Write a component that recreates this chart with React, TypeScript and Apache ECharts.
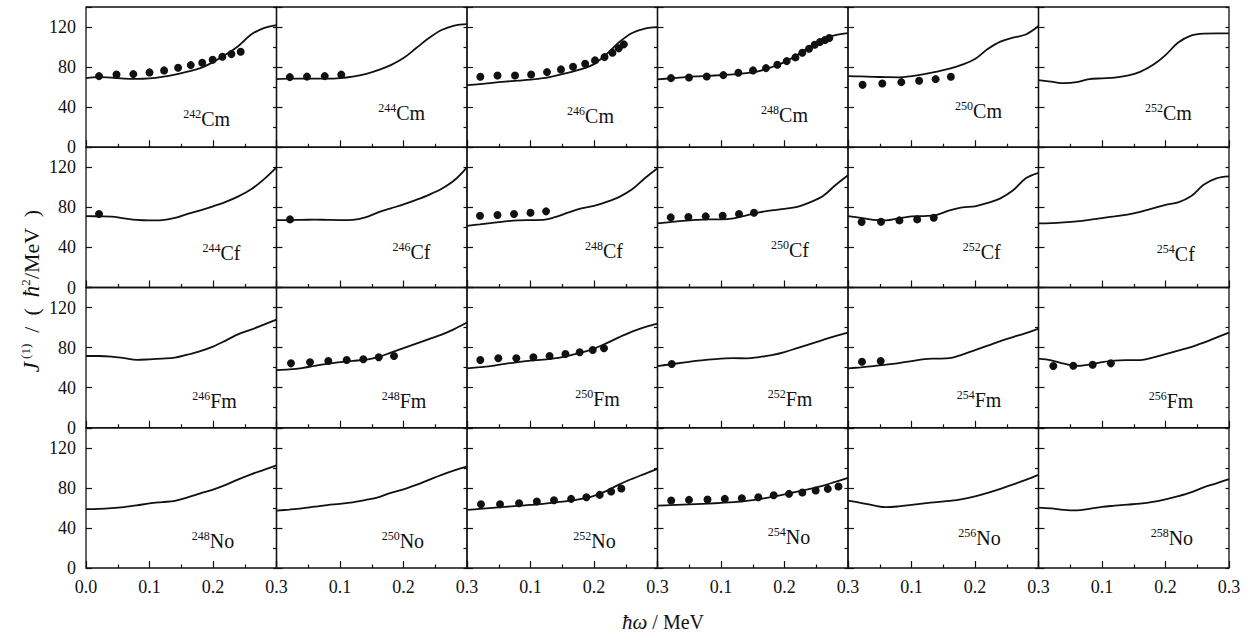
import React, { useEffect, useRef } from "react";
import * as echarts from "echarts";

// rotational frequency grid (MeV) for calculated curves
const OMEGA = [0, 0.02, 0.04, 0.06, 0.08, 0.1, 0.12, 0.14, 0.16, 0.18, 0.2, 0.22, 0.24, 0.26, 0.28, 0.3];

// calculated J(1) curves
const calc242Cm = [69, 70, 69.5, 68.5, 68.3, 68.8, 70.3, 72.5, 75.5, 79, 85, 92.5, 101, 112.5, 119, 122];
const calc244Cm = [68, 68.5, 68.5, 68.5, 68.5, 69, 70.5, 73, 77, 82, 89, 99, 109, 117, 121.5, 123];
const calc246Cm = [62, 63, 64.3, 65.5, 66.5, 67.5, 69, 71.5, 74.5, 78, 83, 93, 105, 114, 118.5, 120];
const calc248Cm = [67.7, 68.8, 69.8, 70.7, 71.3, 72, 72.8, 74, 76, 80, 85, 92, 100.5, 108, 112, 114];
const calc250Cm = [71, 70.7, 70.3, 70, 69.8, 71, 73, 75.5, 78.5, 82.5, 88, 98, 105.5, 109.5, 112.5, 121];
const calc252Cm = [67, 65.5, 64, 65, 68, 68.8, 69.5, 71.5, 75.3, 82, 92, 104.5, 111.5, 113.5, 113.7, 113.7];
const calc244Cf = [71.3, 71, 70.7, 69, 67.5, 67, 67.3, 69.5, 73.5, 77, 81, 85.5, 91, 98, 108, 120];
const calc246Cf = [67.3, 67.3, 67.5, 67.8, 67.5, 67.3, 67.5, 70, 75, 79, 83, 87.5, 92.5, 98.5, 107, 120];
const calc248Cf = [61.6, 63, 64.5, 66, 67, 67.3, 67.5, 70.5, 75, 79, 81.5, 85.5, 90.5, 98, 109, 119];
const calc250Cf = [64, 65.3, 66.6, 67.5, 68, 68, 69, 72, 75, 77, 78.5, 80.5, 85, 91, 102, 112];
const calc252Cf = [71.3, 69.5, 67.5, 67, 69, 71, 71.3, 72.5, 77, 80, 81, 84.5, 89, 97, 109, 114.5];
const calc254Cf = [64, 64.3, 65, 66, 67.5, 69.3, 71, 72.8, 75.5, 79, 82.5, 85, 91, 102.5, 109, 111];
const calc246Fm = [71.6, 71.6, 71, 69.5, 67.8, 68.3, 69, 70, 73, 76.5, 81, 87, 93.5, 98, 103, 108];
const calc248Fm = [57.6, 58.3, 59.6, 61.8, 63.8, 65.5, 66.8, 67.8, 70.5, 75, 79.5, 84, 88.5, 93, 98.5, 105];
const calc250Fm = [59.3, 60.5, 61.8, 63.8, 65.5, 67, 68, 69.5, 72, 75, 79, 84.5, 90.5, 96, 100.5, 104];
const calc252Fm = [61.6, 63.3, 65, 66.7, 68, 69, 69.5, 69.3, 70.5, 72.5, 75.5, 79.5, 83.5, 87.5, 91.5, 95];
const calc254Fm = [59.3, 60.3, 61.5, 63, 64.5, 66.5, 68.6, 69, 69.5, 73, 77.5, 82, 86.5, 90.5, 94.5, 99];
const calc256Fm = [68.9, 67.3, 64, 61.8, 63, 65.5, 67, 67.5, 67.6, 70, 73.5, 77, 80.5, 85, 90, 95];
const calc248No = [58.7, 59, 59.7, 60.8, 62.5, 64.5, 65.8, 67, 70.5, 74.5, 78.3, 83, 88.5, 93.5, 98, 102.5];
const calc250No = [57.3, 58.3, 59.5, 61.2, 62.8, 64, 65.5, 67.8, 70.5, 75, 78.5, 83, 88, 93, 97.5, 101.5];
const calc252No = [58, 59, 60, 61, 62, 63, 64, 65.5, 67, 69, 72, 77, 83.5, 89, 94, 99];
const calc254No = [62.3, 62.8, 63.3, 63.8, 64.3, 65, 65.8, 67, 68.7, 71, 73.5, 76.3, 79, 82, 86, 90];
const calc256No = [67.3, 65, 62.5, 60.7, 61.5, 63, 64.5, 65.8, 67, 68.8, 71.5, 75, 79, 83.5, 88, 93];
const calc258No = [60.3, 59.5, 58, 57.5, 59, 61, 62.2, 63.3, 64.3, 66, 68.5, 71.7, 75.5, 80.5, 84.5, 88.7];

// experimental points [omega, J(1)]
const exp242Cm = [[0.0205, 71], [0.048, 72.7], [0.0745, 73], [0.1, 74.7], [0.123, 76.7], [0.145, 79.3], [0.165, 82], [0.183, 84.3], [0.1995, 87.3], [0.2147, 90.3], [0.229, 93], [0.2436, 95.3]];
const exp244Cm = [[0.021, 70], [0.048, 70.5], [0.076, 71], [0.102, 72.5]];
const exp246Cm = [[0.021, 70.3], [0.048, 71.7], [0.0756, 71.7], [0.101, 72.7], [0.126, 75], [0.148, 77.7], [0.167, 80.3], [0.186, 83.3], [0.2016, 86.7], [0.2165, 90], [0.229, 94.3], [0.239, 98.7], [0.247, 102.7]];
const exp248Cm = [[0.0213, 69], [0.0496, 69.7], [0.0776, 70.7], [0.1037, 72], [0.1273, 74.3], [0.1504, 76.7], [0.1709, 79], [0.1887, 82.3], [0.2035, 86], [0.2172, 89.7], [0.228, 94.3], [0.2386, 98.3], [0.2476, 102.3], [0.2559, 105], [0.2638, 107], [0.2706, 109]];
const exp250Cm = [[0.023, 62.3], [0.054, 63.7], [0.084, 65], [0.112, 66.3], [0.138, 68], [0.162, 70.3]];
const exp244Cf = [[0.0205, 73.3]];
const exp246Cf = [[0.0213, 68]];
const exp248Cf = [[0.0205, 71.6], [0.048, 72.3], [0.074, 73.3], [0.1, 74.6], [0.1245, 76]];
const exp250Cf = [[0.0208, 70], [0.0486, 70.3], [0.0759, 71], [0.1027, 71.6], [0.1283, 73.3], [0.152, 74.6]];
const exp252Cf = [[0.0215, 65.3], [0.052, 65.6], [0.081, 67], [0.109, 68], [0.135, 69.6]];
const exp248Fm = [[0.0228, 64.3], [0.0528, 65.3], [0.0816, 66.6], [0.1105, 67.6], [0.1367, 68.3], [0.161, 70.3], [0.185, 71.6]];
const exp250Fm = [[0.021, 67.6], [0.0493, 69.3], [0.0777, 69.3], [0.1045, 70.3], [0.13, 71.6], [0.155, 73.6], [0.1775, 75.3], [0.198, 77.6], [0.2157, 79.3]];
const exp252Fm = [[0.0224, 63.6]];
const exp254Fm = [[0.022, 65.9], [0.0515, 66.6]];
const exp256Fm = [[0.0233, 61.6], [0.0548, 61.9], [0.0853, 62.9], [0.114, 64.3]];
const exp252No = [[0.022, 63.7], [0.052, 63.7], [0.082, 64.7], [0.11, 66.3], [0.137, 67.7], [0.164, 69], [0.188, 70.7], [0.209, 73], [0.227, 76.3], [0.243, 79.3]];
const exp254No = [[0.0216, 67.3], [0.0496, 68], [0.0787, 68.3], [0.106, 69], [0.1328, 69.7], [0.1588, 70.7], [0.183, 72.7], [0.2071, 74], [0.2281, 75.3], [0.2491, 77.3], [0.2682, 79], [0.285, 81.3]];

// panel names (row-major) and their label anchors in data coordinates
const MASS = ["242", "244", "246", "248", "250", "252", "244", "246", "248", "250", "252", "254", "246", "248", "250", "252", "254", "256", "248", "250", "252", "254", "256", "258"];
const ELEMENT = ["Cm", "Cm", "Cm", "Cm", "Cm", "Cm", "Cf", "Cf", "Cf", "Cf", "Cf", "Cf", "Fm", "Fm", "Fm", "Fm", "Fm", "Fm", "No", "No", "No", "No", "No", "No"];
const LABEL_AT = [
  [0.19, 28], [0.197, 34.5], [0.1945, 31], [0.2, 32.5], [0.2055, 36], [0.2047, 34],
  [0.2134, 34.5], [0.2126, 35], [0.2157, 36.5], [0.2087, 37], [0.2105, 35], [0.2162, 33],
  [0.2024, 27], [0.2008, 27], [0.2055, 28.6], [0.2087, 28.6], [0.2063, 27.6], [0.2087, 27],
  [0.2, 27], [0.199, 27], [0.2008, 27], [0.207, 30.5], [0.207, 29.7], [0.21, 30],
];

const CALC = [
  calc242Cm, calc244Cm, calc246Cm, calc248Cm, calc250Cm, calc252Cm,
  calc244Cf, calc246Cf, calc248Cf, calc250Cf, calc252Cf, calc254Cf,
  calc246Fm, calc248Fm, calc250Fm, calc252Fm, calc254Fm, calc256Fm,
  calc248No, calc250No, calc252No, calc254No, calc256No, calc258No,
];
const EXP: (number[][] | null)[] = [
  exp242Cm, exp244Cm, exp246Cm, exp248Cm, exp250Cm, null,
  exp244Cf, exp246Cf, exp248Cf, exp250Cf, exp252Cf, null,
  null, exp248Fm, exp250Fm, exp252Fm, exp254Fm, exp256Fm,
  null, null, exp252No, exp254No, null, null,
];

const SERIF = "'Liberation Serif', 'DejaVu Serif', serif";
const INK = "#111111";

export default function App() {
  const ref = useRef<HTMLDivElement>(null);
  useEffect(() => {
    if (!ref.current) return;
    const chart = echarts.init(ref.current, undefined, { renderer: "svg" });
    const cols = 6, rows = 4;
    const left0 = 86, right0 = 1229, top0 = 7, bottom0 = 568;
    const pw = (right0 - left0) / cols;
    const ph = (bottom0 - top0) / rows;
    const grid: any[] = [], xAxis: any[] = [], yAxis: any[] = [], series: any[] = [];
    const tickStyle = { color: INK, width: 1.2 };
    for (let i = 0; i < cols * rows; i++) {
      const r = Math.floor(i / cols), c = i % cols;
      grid.push({
        left: left0 + c * pw, top: top0 + r * ph, width: pw, height: ph,
        show: true, borderColor: INK, borderWidth: 1.3, backgroundColor: "transparent",
      });
      xAxis.push({
        gridIndex: i, type: "value", min: 0, max: 0.3, interval: 0.1,
        axisLine: { show: false },
        axisTick: { show: true, inside: true, length: 7, lineStyle: tickStyle },
        minorTick: { show: true, splitNumber: 2, length: 3.5, lineStyle: tickStyle },
        splitLine: { show: false }, minorSplitLine: { show: false },
        axisLabel: {
          show: r === rows - 1, margin: 10, fontSize: 18, fontFamily: SERIF, color: INK,
          formatter: (v: number) => (c > 0 && Math.abs(v) < 1e-9 ? "" : v.toFixed(1)),
        },
      });
      yAxis.push({
        gridIndex: i, type: "value", min: 0, max: 140, interval: 40,
        axisLine: { show: false },
        axisTick: { show: true, inside: true, length: 6, lineStyle: tickStyle },
        splitLine: { show: false },
        axisLabel: {
          show: c === 0, margin: 10, fontSize: 18, fontFamily: SERIF, color: INK,
          formatter: (v: number) => (v > 130 ? "" : String(v)),
        },
      });
      yAxis.push({
        gridIndex: i, type: "value", min: 0, max: 140, interval: 20,
        axisLine: { show: false },
        axisTick: { show: true, inside: true, length: 3.5, lineStyle: tickStyle },
        splitLine: { show: false }, axisLabel: { show: false },
      });
      series.push({
        type: "line", xAxisIndex: i, yAxisIndex: 2 * i,
        data: OMEGA.map((w, k) => [w, CALC[i][k]]),
        showSymbol: false, smooth: 0.35, silent: true,
        lineStyle: { color: INK, width: 1.8 },
      });
      const ex = EXP[i];
      if (ex) {
        series.push({
          type: "scatter", xAxisIndex: i, yAxisIndex: 2 * i, data: ex,
          symbolSize: 8, silent: true, itemStyle: { color: INK, opacity: 1 },
        });
      }
      series.push({
        type: "scatter", xAxisIndex: i, yAxisIndex: 2 * i,
        data: [LABEL_AT[i]], symbolSize: 1, silent: true,
        itemStyle: { color: "rgba(0,0,0,0)", opacity: 1 },
        label: {
          show: true, position: "inside", color: INK, textBorderWidth: 0, opacity: 1,
          formatter: () => `{s|${MASS[i]}}{e|${ELEMENT[i]}}`,
          rich: {
            s: { fontSize: 12, fontFamily: SERIF, color: INK, verticalAlign: "top", lineHeight: 12, textBorderWidth: 0 },
            e: { fontSize: 20, fontFamily: SERIF, color: INK, lineHeight: 22, textBorderWidth: 0 },
          },
        },
      });
    }
    chart.setOption({
      animation: false,
      backgroundColor: "#fff",
      grid, xAxis, yAxis, series,
      graphic: [
        {
          type: "text", x: 31, y: 291, rotation: Math.PI / 2,
          style: {
            text: "{i|J}{s| (1)}{n|  /  (  }{i|ħ}{s|2}{n|/MeV  )}",
            align: "center", verticalAlign: "middle",
            rich: {
              i: { fontSize: 23, fontFamily: SERIF, fontStyle: "italic", fill: INK, lineHeight: 24 },
              n: { fontSize: 22, fontFamily: SERIF, fill: INK, lineHeight: 24 },
              s: { fontSize: 13, fontFamily: SERIF, fill: INK, verticalAlign: "top", lineHeight: 13 },
            },
          },
        },
        {
          type: "text", x: 663, y: 622,
          style: {
            text: "{i|ħω}{n| / MeV}",
            align: "center", verticalAlign: "middle",
            rich: {
              i: { fontSize: 21, fontFamily: SERIF, fontStyle: "italic", fill: INK, lineHeight: 22 },
              n: { fontSize: 20, fontFamily: SERIF, fill: INK, lineHeight: 22 },
            },
          },
        },
      ],
    });
    return () => chart.dispose();
  }, []);
  return (
    <div
      ref={ref}
      style={{ position: "fixed", left: 0, top: 0, width: 1250, height: 636, background: "#fff" }}
    />
  );
}
